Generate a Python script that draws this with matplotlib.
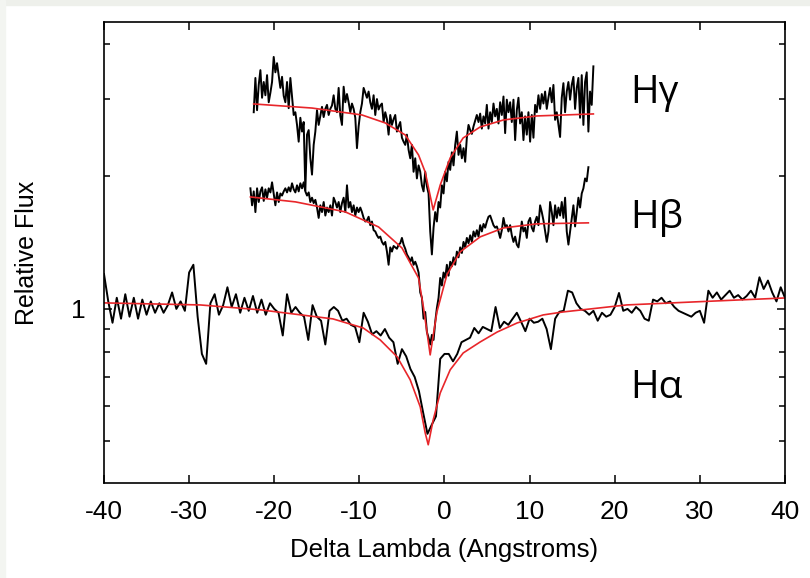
import numpy as np
import matplotlib
matplotlib.use('Agg')
import matplotlib.pyplot as plt
from matplotlib.patches import Rectangle
from matplotlib.ticker import FixedLocator, FixedFormatter, NullFormatter

plt.rcParams['font.family'] = ['Liberation Sans', 'DejaVu Sans']
plt.rcParams['axes.linewidth'] = 1.2
plt.rcParams['axes.unicode_minus'] = False

# H-alpha observed spectrum (0.5 A sampling from -40 A)
ha_start, ha_step = -40.0, 0.5
ha_flux = [
    1.20, 1.04, 0.93, 1.06, 0.95, 1.08, 0.96, 1.06, 0.95, 1.05,
    0.97, 1.04, 0.98, 1.03, 0.98, 1.02, 1.09, 1.00, 1.04, 0.99,
    1.21, 1.26, 0.96, 0.79, 0.75, 1.03, 1.08, 0.97, 1.02, 1.12,
    1.01, 1.08, 0.98, 1.06, 0.99, 1.07, 0.98, 1.05, 0.97, 1.03,
    1.00, 0.98, 0.87, 1.08, 0.98, 1.01, 0.98, 0.96, 0.85, 1.02,
    0.96, 0.94, 0.83, 0.99, 1.01, 0.99, 0.94, 0.95, 0.92, 0.91,
    0.84, 0.98, 0.935, 0.875, 0.89, 0.87, 0.90, 0.86, 0.84, 0.75,
    0.81, 0.78, 0.73, 0.70, 0.65, 0.58, 0.52, 0.545, 0.57, 0.77,
    0.79, 0.79, 0.76, 0.79, 0.84, 0.85, 0.86, 0.905, 0.88, 0.91,
    0.90, 0.89, 1.01, 0.905, 0.935, 0.92, 0.95, 0.98, 0.935, 0.89,
    0.95, 0.93, 0.935, 0.95, 0.90, 0.81, 0.95, 0.985, 0.99, 1.10,
    1.09, 1.03, 1.00, 0.99, 0.97, 0.99, 0.94, 0.98, 0.96, 0.97,
    1.01, 1.087, 0.99, 1.00, 0.98, 1.01, 0.99, 0.95, 0.94, 1.05,
    1.04, 1.06, 1.03, 1.04, 1.01, 0.99, 0.98, 0.97, 0.96, 0.98,
    0.99, 0.93, 1.10, 1.06, 1.09, 1.05, 1.075, 1.10, 1.06, 1.075,
    1.05, 1.07, 1.10, 1.06, 1.18, 1.11, 1.16, 1.09, 1.04, 1.12,
    1.06,
]

# H-beta observed spectrum (offset upward)
hb_start, hb_step = -22.80, 0.1956
hb_flux = [
    1.88, 1.72, 1.85, 1.66, 1.88, 1.75, 1.85, 1.89, 1.76, 1.87,
    1.79, 1.88, 1.84, 1.94, 1.83, 1.72, 1.84, 1.75, 1.83, 1.81,
    1.85, 1.88, 1.84, 1.89, 1.85, 1.93, 1.87, 1.84, 1.91, 1.85,
    1.93, 1.88, 1.94, 1.85, 1.81, 1.84, 1.75, 1.79, 1.74, 1.77,
    1.70, 1.61, 1.72, 1.66, 1.75, 1.63, 1.70, 1.66, 1.72, 1.63,
    1.79, 1.75, 1.70, 1.75, 1.66, 1.74, 1.79, 1.66, 1.91, 1.70,
    1.75, 1.66, 1.72, 1.63, 1.70, 1.66, 1.70, 1.66, 1.61, 1.58,
    1.59, 1.62, 1.55, 1.58, 1.51, 1.50, 1.47, 1.45, 1.46, 1.42,
    1.40, 1.42, 1.35, 1.26, 1.38, 1.35, 1.39, 1.38, 1.37, 1.40,
    1.41, 1.45, 1.40, 1.37, 1.33, 1.31, 1.28, 1.31, 1.26, 1.28,
    1.25, 1.21,
    1.09, 1.06, 0.95, 0.984, 0.886, 0.86, 0.83, 0.873, 0.85, 0.934,
    1.005, 1.06, 1.176, 1.13, 1.21, 1.176, 1.26, 1.19, 1.28, 1.25,
    1.31, 1.26, 1.35, 1.31, 1.38, 1.34, 1.42, 1.38, 1.45, 1.41,
    1.47, 1.42, 1.50, 1.46, 1.51, 1.46, 1.55, 1.50, 1.56, 1.53,
    1.58, 1.62, 1.63, 1.59, 1.55, 1.53, 1.54, 1.50, 1.45, 1.51,
    1.61, 1.54, 1.55, 1.50, 1.55, 1.47, 1.42, 1.46, 1.40, 1.38,
    1.47, 1.58, 1.50, 1.53, 1.45, 1.58, 1.61, 1.53, 1.50, 1.58,
    1.62, 1.55, 1.72, 1.66, 1.59, 1.50, 1.42, 1.50, 1.75, 1.66,
    1.55, 1.72, 1.61, 1.70, 1.63, 1.75, 1.61, 1.79, 1.50, 1.40,
    1.50, 1.61, 1.72, 1.54, 1.66, 1.79, 1.70, 1.83, 1.88, 1.98,
    1.95, 2.10,
]

# H-gamma observed spectrum (offset further up)
hg_start, hg_step = -22.41, 0.1956
hg_flux = [
    2.80, 3.35, 2.83, 3.23, 3.49, 3.02, 3.28, 3.06, 3.40, 2.95,
    3.10, 3.28, 3.74, 3.45, 3.62, 3.40, 3.18, 3.37, 3.05, 2.95,
    3.28, 2.86, 3.35, 3.05, 2.76, 2.80, 2.62, 2.40, 2.72, 2.53,
    2.66, 1.86, 2.49, 2.55, 2.20, 2.02, 2.36, 2.53, 2.83, 2.62,
    2.75, 2.88, 2.73, 2.85, 2.91, 2.76, 2.85, 2.90, 3.06, 2.85,
    2.80, 3.18, 2.75, 2.62, 3.20, 2.95, 3.08, 2.95, 2.80, 2.93,
    2.85, 2.72, 2.32, 2.60, 2.80, 2.93, 3.18, 3.10, 3.02, 3.12,
    2.95, 2.85, 3.06, 2.76, 3.00, 2.84, 2.90, 2.93, 2.66, 2.80,
    2.70, 2.49, 2.76, 2.62, 2.70, 2.76, 2.53, 2.60, 2.66, 2.45,
    2.40, 2.36, 2.49, 2.30, 2.20, 2.36, 2.05, 2.20, 1.98, 2.12,
    2.05, 1.91, 1.85, 2.05, 1.90, 1.83, 1.50, 1.33, 1.53, 1.66,
    1.58, 1.75, 1.70, 1.91, 1.83, 2.05, 1.95, 2.16, 2.07, 2.27,
    2.12, 2.36, 2.53, 2.24, 2.36, 2.20, 2.32, 2.16, 2.45, 2.62,
    2.55, 2.50, 2.60, 2.68, 2.76, 2.66, 2.78, 2.57, 2.74, 2.64,
    2.91, 2.57, 2.80, 2.66, 2.93, 2.74, 2.85, 2.64, 2.95, 2.76,
    3.04, 2.51, 2.99, 2.80, 2.95, 2.66, 2.99, 2.42, 2.83, 3.02,
    2.64, 2.80, 2.42, 2.74, 2.49, 2.80, 2.40, 2.76, 2.45, 2.91,
    2.80, 3.06, 2.85, 3.08, 2.93, 3.12, 2.85, 3.02, 3.18, 2.95,
    3.23, 2.69, 2.80, 2.62, 2.46, 3.02, 3.26, 2.80, 3.12, 3.28,
    2.99, 3.23, 3.37, 2.85, 3.18, 3.35, 2.72, 3.40, 2.62, 3.28,
    3.45, 2.53, 3.12, 2.91, 3.56,
]

# model fits (red)
fit_a_x = [-40.0, -28.7, -21.6, -13.1, -9.55, -7.55, -5.56, -4.03, -2.85, -2.27,
           -1.91, -1.33, -0.5, 0.67, 2.2, 4.19, 6.19, 8.53, 11.6, 13.9,
           21.4, 29.2, 40.0]
fit_a_y = [1.032, 1.021, 0.995, 0.949, 0.905, 0.850, 0.778, 0.690, 0.599, 0.523,
           0.491, 0.559, 0.644, 0.727, 0.794, 0.841, 0.886, 0.929, 0.969, 0.984,
           1.021, 1.037, 1.059]

fit_b_x = [-22.8, -17.5, -11.66, -7.75, -5.0, -3.05, -2.46, -1.68, -0.89, 0.28,
           1.84, 4.19, 6.93, 10.85, 16.9]
fit_b_y = [1.797, 1.751, 1.662, 1.536, 1.376, 1.176, 1.005, 0.786, 0.984, 1.195,
           1.348, 1.458, 1.528, 1.561, 1.569]

fit_g_x = [-22.42, -15.56, -9.69, -6.96, -4.61, -3.05, -2.27, -1.33, -0.5, 0.67,
           2.19, 4.19, 6.93, 10.85, 17.49]
fit_g_y = [2.924, 2.862, 2.76, 2.647, 2.486, 2.239, 2.048, 1.679, 1.913, 2.204,
           2.447, 2.592, 2.689, 2.746, 2.775]

line_names = ['H\u03b3', 'H\u03b2', 'H\u03b1']
name_y = [2.94, 1.53, 0.628]

ha_wl = ha_start + ha_step * np.arange(len(ha_flux))
hb_wl = hb_start + hb_step * np.arange(len(hb_flux))
hg_wl = hg_start + hg_step * np.arange(len(hg_flux))

fig = plt.figure(figsize=(8.1, 5.78), dpi=100)
# pale slide border strips along the top and left edges
fig.patches.append(Rectangle((0, 0.991), 1, 0.009, transform=fig.transFigure,
                             color='#eef0eb', zorder=0))
fig.patches.append(Rectangle((0, 0), 0.006, 1, transform=fig.transFigure,
                             color='#f3f5f1', zorder=0))

ax = fig.add_axes([0.1284, 0.1644, 0.8407, 0.7975])

for wl, fl in [(ha_wl, ha_flux), (hb_wl, hb_flux), (hg_wl, hg_flux)]:
    ax.plot(wl, fl, color='black', linewidth=1.4)
for fx, fy in [(fit_a_x, fit_a_y), (fit_b_x, fit_b_y), (fit_g_x, fit_g_y)]:
    ax.plot(fx, fy, color='#e8262a', linewidth=1.2)

for name, yy in zip(line_names, name_y):
    ax.text(21.8, yy, name, fontsize=28, va='baseline', ha='left',
            family=['Open Sans', 'DejaVu Sans'])

ax.set_yscale('log')
ax.set_xlim(-40, 40)
ax.set_ylim(0.402, 4.49)

ax.set_xticks(np.arange(-40, 41, 10))
ax.yaxis.set_major_locator(FixedLocator([1]))
ax.yaxis.set_major_formatter(FixedFormatter(['1']))
ax.yaxis.set_minor_locator(FixedLocator([0.5, 0.6, 0.7, 0.8, 0.9, 2, 3, 4]))
ax.yaxis.set_minor_formatter(NullFormatter())

ax.tick_params(which='both', direction='in', top=True, right=True,
               labelsize=19, colors='black')
ax.tick_params(which='major', length=6, width=1.1)
ax.tick_params(which='minor', length=4, width=1.1)
ax.tick_params(axis='x', pad=12.5)
ax.tick_params(axis='y', pad=13)

ax.set_xlabel('Delta Lambda (Angstroms)', fontsize=18.5)
ax.set_ylabel('Relative Flux', fontsize=18)
ax.xaxis.set_label_coords(0.5, -0.12)
ax.yaxis.set_label_coords(-0.096, 0.5)

fig.savefig('out.png', dpi=100)
